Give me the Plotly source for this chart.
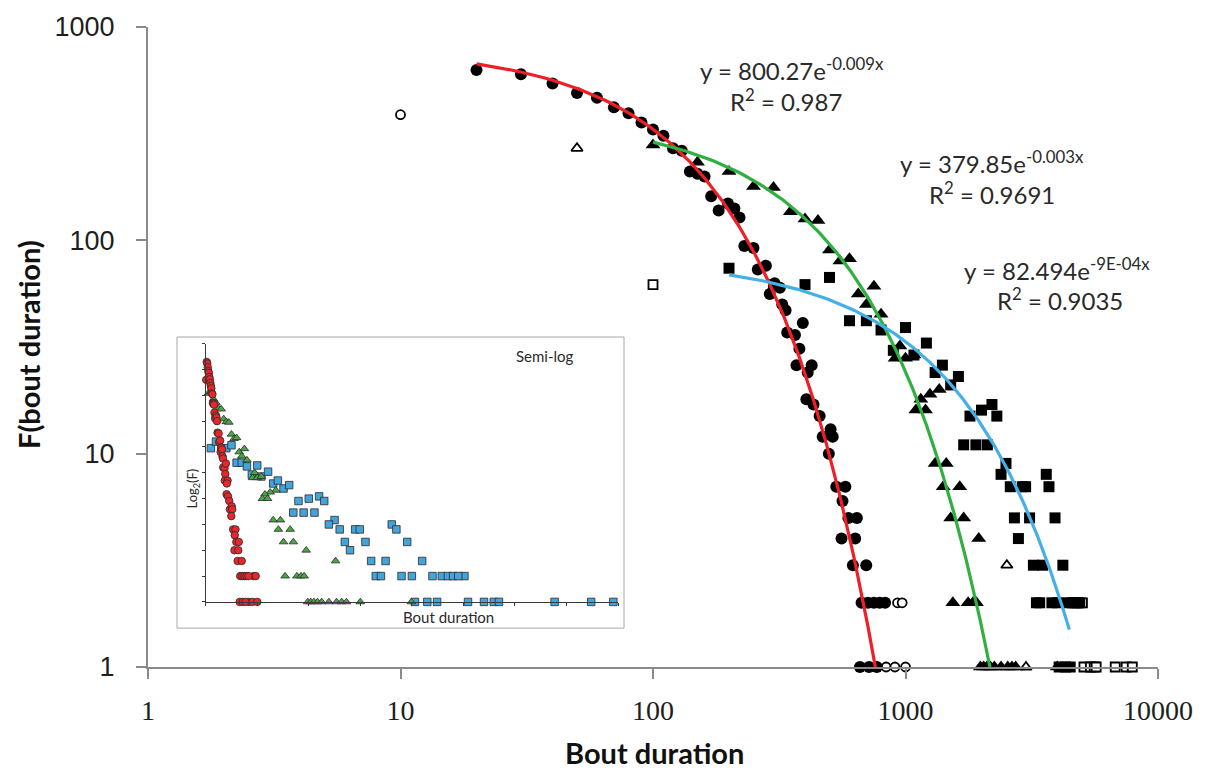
import numpy as np
import plotly.graph_objects as go

# ---------------- data ----------------
# Series 1 (circles, bin 10)
circ_x = [20, 30, 40, 50, 60, 70, 80, 90, 100, 110, 120, 130, 140, 150, 160, 170, 182, 198,
          210, 220, 230, 250, 260, 280, 290, 303, 318, 325, 335, 340, 365, 380, 392, 370,
          425, 410, 405, 432, 457, 470, 505, 515, 497, 532, 578, 563, 594, 642, 558, 632,
          619, 699, 670, 710, 750, 790, 830, 660, 717, 770]
circ_y = [628, 601, 543, 491, 466, 420, 394, 357, 331, 309, 270, 263, 210, 205, 199, 161, 138, 149,
          141, 128, 94, 92, 73, 76, 56, 63, 60, 50, 47, 37, 36, 31, 41, 26,
          26, 24, 18, 17, 15, 12, 13, 12, 10, 7, 7, 6, 5, 5, 4, 4,
          3, 3, 2, 2, 2, 2, 2, 1, 1, 1]
circ_open_x = [10, 930, 970, 838, 908, 1000]
circ_open_y = [388, 2, 2, 1, 1, 1]

# Series 2 (triangles, bin 50)
tri_x = [100, 150, 200, 250, 300, 350, 400, 450, 500, 550, 600, 650, 700, 750, 800, 950, 910,
         1000, 1080, 1360, 1250, 1150, 1100, 1200, 1310, 1450, 1410, 1640, 1510, 1700, 1950,
         1540, 1770, 1850, 1910, 1980, 2040, 2100, 2170, 2250, 2390, 2540, 2640, 2730, 3990]
tri_y = [280, 232, 210, 179, 177, 136, 126, 124, 90, 80, 82, 56, 50, 61, 45, 32, 28,
         28, 29, 20, 19, 18, 16, 16, 9, 9, 7, 7, 5, 5, 4,
         2, 2, 2, 2, 1, 1, 1, 1, 1, 1, 1, 1, 1, 1]
tri_open_x = [50, 2520, 3000]
tri_open_y = [270, 3, 1]

# Series 3 (squares, bin 100)
sq_x = [200, 300, 400, 500, 600, 700, 800, 895, 1000, 1080, 1210, 1310, 1400, 1510, 1620,
        1800, 2000, 2200, 2300, 1700, 1900, 2110, 2500, 2390, 3610, 2600, 2900, 2990, 3700,
        2700, 3100, 3910, 2800, 3210, 3490, 4200, 3300, 3400, 3800, 4000, 4400, 4580, 4700,
        4800, 4900, 4060, 4300, 4490]
sq_y = [74, 62, 62, 67, 42, 42, 38, 30.5, 39, 29, 33, 24, 26, 21, 23,
        15, 16, 17, 15, 11, 11, 11, 9, 8, 8, 7, 7, 7, 7,
        5, 5, 5, 4, 3, 3, 3, 2, 2, 2, 2, 2, 2, 2,
        2, 2, 1, 1, 1]
sq_open_x = [100, 5020, 5090, 5400, 5590, 5690, 6770, 7480, 7910]
sq_open_y = [62, 2, 1, 1, 1, 1, 1, 1, 1]

# exponential fits  y = a * exp(-k x), drawn from x_start until the fit ends
fit_a = [800.27, 379.85, 82.494]
fit_k = [0.0088, 0.00275, 0.0009]
fit_x0 = [20, 100, 200]
fit_x1 = [None, None, 4455]
fit_eq = ["y = 800.27e<sup>-0.009x</sup>", "y = 379.85e<sup>-0.003x</sup>", "y = 82.494e<sup>-9E-04x</sup>"]
fit_r2 = ["R<sup>2</sup> = 0.987", "R<sup>2</sup> = 0.9691", "R<sup>2</sup> = 0.9035"]
fit_col = ["#ee1f26", "#2fb041", "#45b0e5"]

x_ticks = [1, 10, 100, 1000, 10000]
y_ticks = [1, 10, 100, 1000]

# ---------------- layout helpers (pixel -> paper) ----------------
W, H = 1210, 772
L, R, T, B = 148, 1158, 25, 667


def px(xp):
    return (xp - L) / (R - L)


def py(yp):
    return (B - yp) / (B - T)


fig = go.Figure()

blk = "#000000"
main_series = [
    (circ_x, circ_y, "circle", 12),
    (tri_x, tri_y, "triangle-up", 13),
    (sq_x, sq_y, "square", 11),
]
open_series = [
    (circ_open_x, circ_open_y, "circle", 9),
    (tri_open_x, tri_open_y, "triangle-up", 10),
    (sq_open_x, sq_open_y, "square", 9),
]
for (xs, ys, sym, sz) in open_series:
    fig.add_trace(go.Scatter(x=xs, y=ys, mode="markers", cliponaxis=False,
                             marker=dict(symbol=sym, size=sz, color="white",
                                         line=dict(color=blk, width=1.8))))
for (xs, ys, sym, sz) in main_series:
    fig.add_trace(go.Scatter(x=xs, y=ys, mode="markers", cliponaxis=False,
                             marker=dict(symbol=sym, size=sz, color=blk, line=dict(width=0))))

for a, k, x0, x1, c in zip(fit_a, fit_k, fit_x0, fit_x1, fit_col):
    xe = x1 if x1 is not None else np.log(a) / k
    xs = np.linspace(x0, xe, 300)
    fig.add_trace(go.Scatter(x=xs, y=a * np.exp(-k * xs), mode="lines", cliponaxis=False,
                             line=dict(color=c, width=3.2)))

# ---------------- inset (semi-log) ----------------
ins_fill = ["#e8262b", "#4aa544", "#43a3db"]
ins_groups = [
    (circ_open_x + circ_x, circ_open_y + circ_y, "circle", 7.5),
    (tri_open_x + tri_x, tri_open_y + tri_y, "triangle-up", 7.5),
    (sq_open_x + sq_x, sq_open_y + sq_y, "square", 7.5),
]
for (xs, ys, sym, sz), fc in zip(ins_groups[::-1], ins_fill[::-1]):
    fig.add_trace(go.Scatter(x=xs, y=np.log2(ys), mode="markers", cliponaxis=False,
                             xaxis="x2", yaxis="y2",
                             marker=dict(symbol=sym, size=sz, color=fc,
                                         line=dict(color="#2a2a2a", width=0.8))))

axis_col = "#8a8a8a"
tick_font = dict(family="Liberation Sans", size=27, color="#1e1e1e")
fig.update_layout(
    width=W, height=H,
    margin=dict(l=L, r=W - R, t=T, b=H - B),
    paper_bgcolor="white", plot_bgcolor="white",
    showlegend=False,
    xaxis=dict(type="log", range=[0, 4], tickvals=x_ticks, ticktext=[str(v) for v in x_ticks],
               showgrid=False, zeroline=False, showline=True, linecolor=axis_col, linewidth=2,
               ticks="outside", ticklen=10, tickwidth=2, tickcolor=axis_col,
               tickfont=dict(family="Liberation Sans Narrow", size=28, color="#1e1e1e"),
               ticklabelstandoff=7),
    yaxis=dict(type="log", range=[0, 3], tickvals=y_ticks, ticktext=[str(v) for v in y_ticks],
               showgrid=False, zeroline=False, showline=True, linecolor=axis_col, linewidth=2,
               ticks="outside", ticklen=10, tickwidth=2, tickcolor=axis_col,
               tickfont=tick_font, ticklabelstandoff=16),
    xaxis2=dict(domain=[px(205.7), px(618)], anchor="y2", range=[0, 8000], dtick=1000,
                showgrid=False, zeroline=False, showline=True, linecolor="#3a3a3a", linewidth=1.3,
                ticks="outside", ticklen=3, tickcolor="#3a3a3a", showticklabels=False),
    yaxis2=dict(domain=[py(601.7), py(342.7)], anchor="x2", range=[0, 10], dtick=1,
                showgrid=False, zeroline=False, showline=True, linecolor="#3a3a3a", linewidth=1.3,
                ticks="outside", ticklen=3, tickcolor="#3a3a3a", showticklabels=False),
)

fig.add_shape(type="rect", xref="paper", yref="paper", x0=px(177), x1=px(624), y0=py(628), y1=py(336),
              line=dict(color="#a8a8a8", width=1), fillcolor="white", layer="below")

ann_font = dict(family="Lato", size=24, color="#2a2a2a")
title_font = dict(family="Lato", size=29, color="#111111")
eq_pos = [((792, 67), (786, 98)), ((992, 160), (992, 192)), ((1057, 268), (1060, 298))]
for (p1, p2), eq, r2 in zip(eq_pos, fit_eq, fit_r2):
    fig.add_annotation(x=px(p1[0]), y=py(p1[1]), xref="paper", yref="paper", text=eq,
                       showarrow=False, font=ann_font, xanchor="center", yanchor="middle")
    fig.add_annotation(x=px(p2[0]), y=py(p2[1]), xref="paper", yref="paper", text=r2,
                       showarrow=False, font=ann_font, xanchor="center", yanchor="middle")

fig.add_annotation(x=px(654), y=py(753), xref="paper", yref="paper", text="<b>Bout duration</b>",
                   showarrow=False, font=title_font, xanchor="center", yanchor="middle")
fig.add_annotation(x=px(28), y=py(344), xref="paper", yref="paper", text="<b>F(bout duration)</b>",
                   showarrow=False, font=dict(family="Lato", size=29, color="#111111"),
                   textangle=-90, xanchor="center", yanchor="middle")

small = dict(family="Lato", size=15, color="#2a2a2a")
fig.add_annotation(x=px(448), y=py(617), xref="paper", yref="paper", text="Bout duration",
                   showarrow=False, font=small, xanchor="center", yanchor="middle")
fig.add_annotation(x=px(193), y=py(488), xref="paper", yref="paper", text="Log<sub>2</sub>(F)",
                   showarrow=False, font=dict(family="Lato", size=13, color="#2a2a2a"),
                   textangle=-90, xanchor="center", yanchor="middle")
fig.add_annotation(x=px(545), y=py(355), xref="paper", yref="paper", text="Semi-log",
                   showarrow=False, font=small, xanchor="center", yanchor="middle")

fig.write_html("out.html", config={"displayModeBar": False},
               post_script="document.body.style.margin='0px';document.body.style.overflow='hidden';")
